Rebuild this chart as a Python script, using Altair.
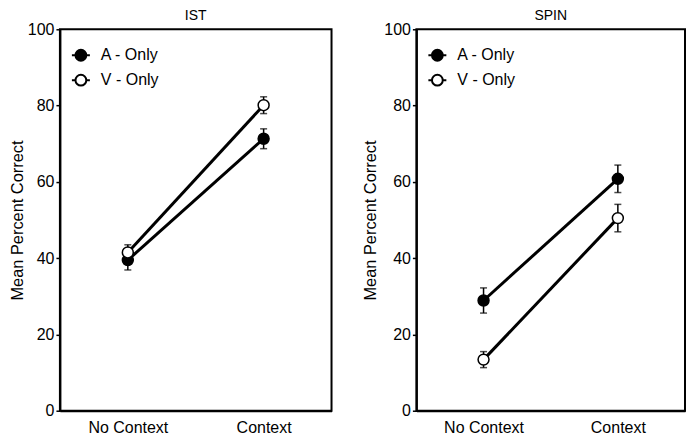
import altair as alt
import pandas as pd

conditions = ["No Context", "Context"]
series_names = ["A - Only", "V - Only"]

ist_a_mean = [39.5, 71.3]
ist_a_err = [2.6, 2.6]
ist_v_mean = [41.5, 80.1]
ist_v_err = [2.0, 2.2]

spin_a_mean = [28.9, 60.8]
spin_a_err = [3.3, 3.6]
spin_v_mean = [13.4, 50.5]
spin_v_err = [2.1, 3.6]

y_ticks = [0, 20, 40, 60, 80, 100]

FONT = "Liberation Sans"
LEGEND_SYMBOL = ("M-1,0L-0.6,0M0.6,0L1,0M-0.6,0A0.6,0.6,0,1,0,0.6,0"
                 "A0.6,0.6,0,1,0,-0.6,0Z")


def make_df(a_mean, a_err, v_mean, v_err):
    rows = []
    for s, means, errs in [(series_names[0], a_mean, a_err),
                           (series_names[1], v_mean, v_err)]:
        for c, m, e in zip(conditions, means, errs):
            rows.append({"cond": c, "series": s, "mean": m,
                         "lo": m - e, "hi": m + e})
    return pd.DataFrame(rows)


def panel(title, df, width, title_pad):
    xenc = alt.X("cond:N", sort=conditions,
                 scale=alt.Scale(type="point", padding=0.5),
                 axis=alt.Axis(title=None, ticks=False, labelAngle=0,
                               labelFontSize=16, labelPadding=9,
                               domainColor="black", domainWidth=2))
    yscale = alt.Scale(domain=[0, 100], nice=False)
    yaxis = alt.Axis(title="Mean Percent Correct", values=y_ticks,
                     grid=False, tickSize=4, tickColor="black", tickWidth=1.5,
                     labelFontSize=16, labelPadding=2,
                     titleFontSize=16.4, titleFontWeight="normal",
                     titlePadding=title_pad, domainColor="black", domainWidth=2)
    base = alt.Chart(df)
    lines = base.mark_line(color="black", strokeWidth=3).encode(
        x=xenc, y=alt.Y("mean:Q", scale=yscale, axis=yaxis), detail="series:N")
    rules = base.mark_rule(color="black", strokeWidth=1.5).encode(
        x=xenc, y="lo:Q", y2="hi:Q")
    caps = base.transform_fold(["lo", "hi"], as_=["k", "v"]).mark_tick(
        color="black", thickness=1.5, size=7, orient="horizontal").encode(
        x=xenc, y=alt.Y("v:Q", scale=yscale))
    pts = base.mark_point(shape="circle", stroke="black", strokeWidth=1.5,
                          size=120, opacity=1, fillOpacity=1).encode(
        x=xenc, y=alt.Y("mean:Q", scale=yscale),
        fill=alt.Fill("series:N", scale=alt.Scale(domain=series_names,
                                                  range=["black", "white"]),
                      legend=alt.Legend(title=None, orient="none",
                                        legendX=11, legendY=16,
                                        symbolType=LEGEND_SYMBOL,
                                        symbolSize=324, symbolStrokeWidth=2,
                                        symbolStrokeColor="black",
                                        labelFontSize=16, labelOffset=10,
                                        rowPadding=5, padding=0)),
        order=alt.Order("series:N"))
    return alt.layer(lines, rules, caps, pts).properties(
        width=width, height=382,
        title=alt.TitleParams(title, fontSize=14, fontWeight="normal",
                              font=FONT, offset=-2))


left = panel("IST", make_df(ist_a_mean, ist_a_err, ist_v_mean, ist_v_err), 272, 2)
right = panel("SPIN", make_df(spin_a_mean, spin_a_err, spin_v_mean, spin_v_err), 269, 5)

chart = alt.hconcat(left, right, spacing=85, bounds="flush").resolve_scale(
    fill="independent").resolve_legend(fill="independent").properties(
    padding={"left": 0, "top": 0, "right": 0, "bottom": 0}
).configure(font=FONT).configure_view(
    stroke="black", strokeWidth=2
).configure_axis(labelColor="black", titleColor="black", labelFont=FONT,
                 titleFont=FONT).configure_legend(labelFont=FONT,
                                                  labelColor="black")

chart.save("out.html", embed_options={"renderer": "svg", "actions": False})
